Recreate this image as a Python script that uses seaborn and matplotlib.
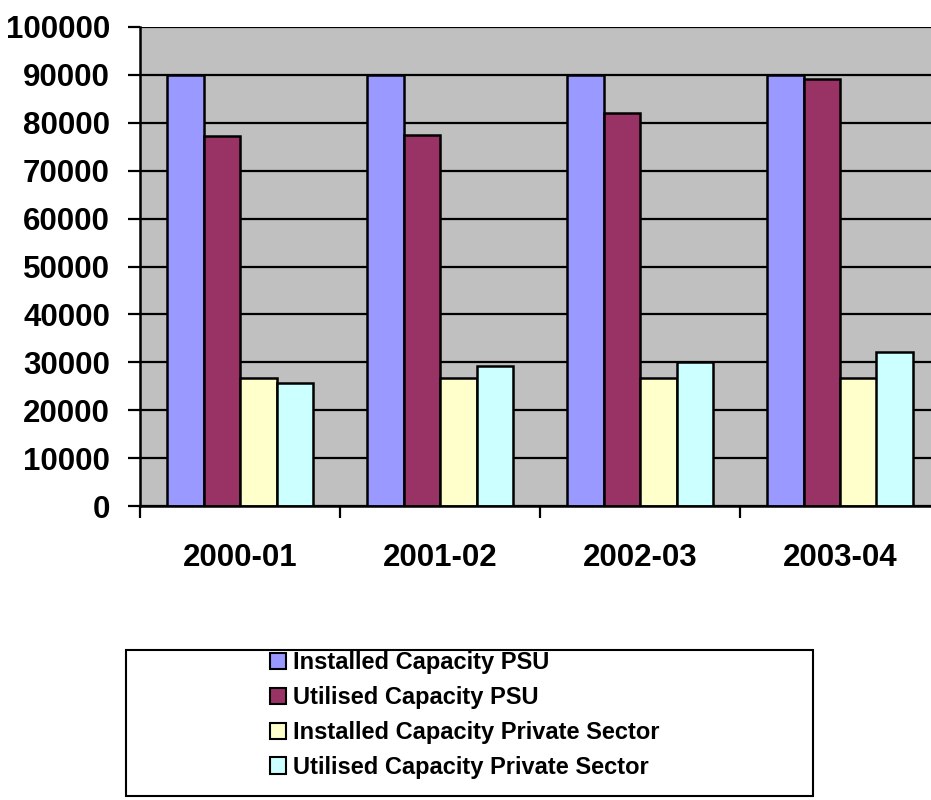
import seaborn as sns
import matplotlib.pyplot as plt
import matplotlib.patches as mpatches
from matplotlib.ticker import FixedLocator, MultipleLocator
import pandas as pd

years = ['2000-01', '2001-02', '2002-03', '2003-04']
series = ['Installed Capacity PSU', 'Utilised Capacity PSU',
          'Installed Capacity Private Sector', 'Utilised Capacity Private Sector']
installed_psu = [90000, 90000, 90000, 90000]
utilised_psu = [77200, 77500, 82000, 89200]
installed_private = [26700, 26700, 26700, 26700]
utilised_private = [25700, 29200, 30100, 32200]
colors = ['#9999FF', '#993366', '#FFFFCC', '#CCFFFF']

rows = []
for name, vals in zip(series, [installed_psu, utilised_psu, installed_private, utilised_private]):
    for y, v in zip(years, vals):
        rows.append({'year': y, 'series': name, 'value': v})
df = pd.DataFrame(rows)

plt.rcParams['font.family'] = ['Liberation Sans', 'DejaVu Sans']
plt.rcParams['font.weight'] = 'bold'

fig = plt.figure(figsize=(9.31, 8.0), dpi=100)
ax = fig.add_axes([140 / 931, 294 / 800, 800 / 931, 479 / 800])
ax.set_facecolor('#C0C0C0')
ax.set_axisbelow(True)
ax.yaxis.grid(True, color='black', linewidth=1.6)

sns.barplot(data=df, x='year', y='value', hue='series', hue_order=series,
            palette=colors, saturation=1, width=0.73, edgecolor='black',
            linewidth=1.8, ax=ax, legend=False)

ax.set_xlim(-0.5, 3.5)
ax.set_ylim(0, 100000)
ax.yaxis.set_major_locator(MultipleLocator(10000))
ax.set_xlabel('')
ax.set_ylabel('')
for s in ['top', 'right']:
    ax.spines[s].set_visible(False)
for s in ['left', 'bottom']:
    ax.spines[s].set_linewidth(1.8)
    ax.spines[s].set_color('black')

ax.tick_params(axis='y', direction='out', length=8.6, width=1.6, labelsize=22.5, pad=13)
ax.tick_params(axis='x', which='major', length=0, labelsize=22.5, pad=27)
ax.xaxis.set_minor_locator(FixedLocator([-0.5, 0.5, 1.5, 2.5, 3.5]))
ax.tick_params(axis='x', which='minor', direction='out', length=8.6, width=1.6)
for lbl in ax.get_xticklabels() + ax.get_yticklabels():
    lbl.set_fontweight('bold')

# legend box
fig.patches.append(mpatches.Rectangle((126 / 931, 4 / 800), 687 / 931, 146 / 800,
                                      transform=fig.transFigure, facecolor='white',
                                      edgecolor='black', linewidth=1.5, zorder=0))
handles = [mpatches.Patch(facecolor=c, edgecolor='black', linewidth=1.5) for c in colors]
fig.legend(handles, series, loc='center', bbox_to_anchor=(465 / 931, 1 - 715 / 800),
           frameon=False, handlelength=0.68, handleheight=0.68,
           handletextpad=0.3, labelspacing=0.5, prop={'weight': 'bold', 'size': 17})

fig.savefig('out.png', dpi=100)
